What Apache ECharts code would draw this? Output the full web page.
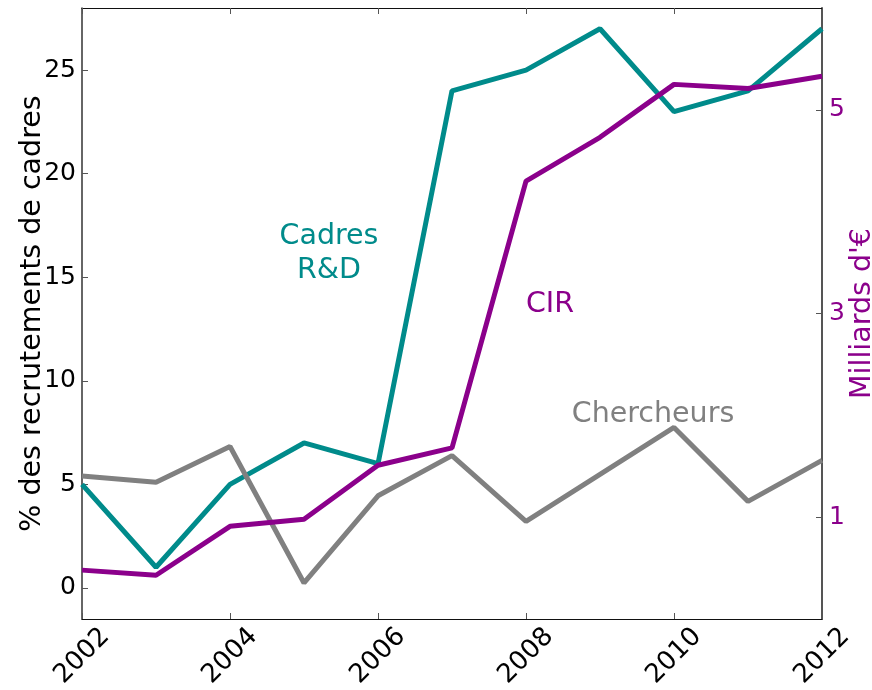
<!DOCTYPE html>
<html>
<head>
<meta charset="utf-8">
<script src="https://cdn.jsdelivr.net/npm/echarts@6/dist/echarts.min.js"></script>
<style>
html,body{margin:0;padding:0;background:#fff;}
#chart{width:872px;height:690px;}
</style>
</head>
<body>
<div id="chart"></div>
<script>
const years = [2002, 2003, 2004, 2005, 2006, 2007, 2008, 2009, 2010, 2011, 2012];
const cadresRD = [5, 1, 5, 7, 6, 24, 25, 27, 23, 24, 27];
const chercheurs = [5.4, 5.1, 6.83, 0.24, 4.45, 6.39, 3.21, 5.48, 7.75, 4.18, 6.16];
const cir = [0.48, 0.43, 0.91, 0.98, 1.51, 1.68, 4.30, 4.73, 5.25, 5.21, 5.33];
const leftTicks = [0, 5, 10, 15, 20, 25];
const rightTicks = [1, 3, 5];
const xTicks = [2002, 2004, 2006, 2008, 2010, 2012];

const FONT = 'DejaVu Sans';
const TEAL = '#008b8b', PURPLE = '#8b008b', GRAY = '#808080';
const pairs = v => years.map((y, i) => [y, v[i]]);

const chart = echarts.init(document.getElementById('chart'), null, {renderer: 'canvas'});
chart.setOption({
  animation: false,
  backgroundColor: '#fff',
  textStyle: {fontFamily: FONT},
  grid: {left: 82, right: 50, top: 8, bottom: 71, containLabel: false, outerBoundsMode: 'none'},
  xAxis: [{
    type: 'value', min: 2002, max: 2012, interval: 2,
    position: 'bottom',
    axisLine: {show: true, onZero: false, lineStyle: {color: '#111', width: 1.2}},
    axisTick: {show: true, inside: true, length: 6, lineStyle: {color: '#555'}, customValues: xTicks},
    axisLabel: {customValues: xTicks, rotate: 45, align: 'center', verticalAlign: 'middle', margin: 37,
      fontSize: 26, color: '#000', fontFamily: FONT, formatter: v => String(v)},
    splitLine: {show: false}
  }, {
    type: 'value', min: 2002, max: 2012, interval: 2,
    position: 'top',
    axisLine: {show: true, onZero: false, lineStyle: {color: '#111', width: 1.2}},
    axisTick: {show: true, inside: true, length: 6, lineStyle: {color: '#555'}, customValues: xTicks},
    axisLabel: {show: false},
    splitLine: {show: false}
  }],
  yAxis: [{
    type: 'value', min: -1.5, max: 28, position: 'left',
    name: '% des recrutements de cadres', nameLocation: 'middle', nameRotate: 90, nameGap: 35,
    nameMoveOverlap: false,
    nameTextStyle: {fontSize: 28.5, color: '#000', fontFamily: FONT},
    axisLine: {show: true, onZero: false, lineStyle: {color: '#333', width: 1.5}},
    axisTick: {show: true, inside: true, length: 6, lineStyle: {color: '#555'}, customValues: leftTicks},
    axisLabel: {customValues: leftTicks, fontSize: 25, color: '#000', margin: 6, fontFamily: FONT},
    splitLine: {show: false}
  }, {
    type: 'value', min: 0, max: 6, position: 'right',
    name: "Milliards d'\u20ac", nameLocation: 'middle', nameRotate: 90, nameGap: 26,
    nameMoveOverlap: false,
    nameTextStyle: {fontSize: 28.5, color: PURPLE, fontFamily: FONT},
    axisLine: {show: true, onZero: false, lineStyle: {color: '#555', width: 2}},
    axisTick: {show: true, inside: true, length: 6, lineStyle: {color: '#555'}, customValues: rightTicks},
    axisLabel: {customValues: rightTicks, fontSize: 25, color: PURPLE, margin: 7, fontFamily: FONT},
    splitLine: {show: false}
  }],
  series: [{
    name: 'Cadres R&D', type: 'line', xAxisIndex: 0, yAxisIndex: 0,
    data: pairs(cadresRD), showSymbol: false, symbol: 'none',
    lineStyle: {color: TEAL, width: 5}, itemStyle: {color: TEAL}
  }, {
    name: 'Chercheurs', type: 'line', xAxisIndex: 0, yAxisIndex: 0,
    data: pairs(chercheurs), showSymbol: false, symbol: 'none',
    lineStyle: {color: GRAY, width: 5}, itemStyle: {color: GRAY}
  }, {
    name: 'CIR', type: 'line', xAxisIndex: 0, yAxisIndex: 1,
    data: pairs(cir), showSymbol: false, symbol: 'none',
    lineStyle: {color: PURPLE, width: 5}, itemStyle: {color: PURPLE}
  }],
  graphic: [{
    type: 'text', x: 329, y: 254,
    style: {text: 'Cadres\nR&D', fill: TEAL, fontSize: 28.5, fontFamily: FONT, align: 'center', verticalAlign: 'middle', lineHeight: 34}
  }, {
    type: 'text', x: 550, y: 305,
    style: {text: 'CIR', fill: PURPLE, fontSize: 28.5, fontFamily: FONT, align: 'center', verticalAlign: 'middle'}
  }, {
    type: 'text', x: 653, y: 415,
    style: {text: 'Chercheurs', fill: GRAY, fontSize: 28.5, fontFamily: FONT, align: 'center', verticalAlign: 'middle'}
  }]
});
</script>
</body>
</html>
